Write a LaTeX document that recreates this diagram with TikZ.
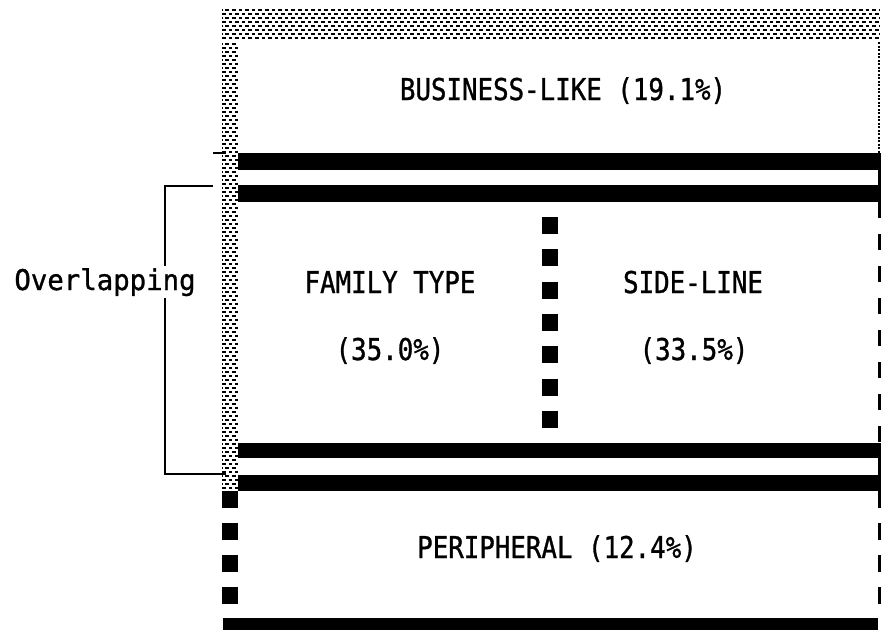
\documentclass[tikz,border=0pt]{standalone}
\usepackage{fontspec}
\newfontfamily\typefont{DejaVu Sans Mono}[FakeStretch=0.86,FakeBold=1]
\newfontfamily\sidefont{DejaVu Sans Mono}[FakeStretch=0.96,FakeBold=1]

\begin{document}
\begin{tikzpicture}[x=1pt,y=-1pt,
    lbl/.style={font=\typefont\fontsize{30}{32}\selectfont,inner sep=0pt,anchor=base},
    bar/.style={fill=black},
    stipple/.style={line width=1.1pt,dash pattern=on 3.6pt off 3pt},
    blocks/.style={line width=16pt,dash pattern=on 16.5pt off 15.5pt},
    edge/.style={line width=3pt}]
\useasboundingbox (0,0) rectangle (882,630);

% stippled band on top and left column
\foreach \y [count=\k] in {10,14,...,41}{
    \pgfmathsetmacro{\ph}{mod(\k,2)*3.3}
    \draw[stipple,dash phase=\ph pt] (222,\y) -- (880,\y);
}
\foreach \y [count=\k] in {44,48,...,490}{
    \pgfmathsetmacro{\ph}{mod(\k,2)*3.3}
    \draw[stipple,dash phase=\ph pt] (222,\y) -- (238,\y);
}
\draw[line width=1.5pt,dash pattern=on 2pt off 1.5pt] (879,42) -- (879,153);

% black bars
\fill[bar] (238,153) rectangle (878,170);
\fill[bar] (238,185) rectangle (878,202);
\fill[bar] (238,443) rectangle (878,458);
\fill[bar] (238,475) rectangle (878,491);
\fill[bar] (223,618) rectangle (878,630);

% dashed walls
\draw[blocks,dash pattern=on 17pt off 15.3pt] (550,217) -- (550,428);
\draw[blocks] (230,491) -- (230,605);
\draw[edge] (879,153) -- (879,202) (879,443) -- (879,491);
\draw[edge,dash pattern=on 16pt off 16pt] (879,202) -- (879,443);
\draw[edge,dash pattern=on 16.5pt off 15.5pt] (879,491) -- (879,605);

% bracket
\coordinate (brtick) at (213,153);
\coordinate (brtop) at (213,186);
\coordinate (brbot) at (226,474);
\draw[line width=1.2pt] (brtick) -- ++(13,0);
\draw[line width=1.2pt] (brtop) -- (165,186) -- (165,474) -- (brbot);

\node[lbl,font=\sidefont\fontsize{28.5}{30}\selectfont,fill=white,inner sep=2pt] (overlap) at (105,290) {Overlapping};

\node[lbl] (business) at (563,100) {BUSINESS-LIKE (19.1\%)};
\node[lbl] (family) at (390,293) {FAMILY TYPE};
\node[lbl] (familyp) at (390,360) {(35.0\%)};
\node[lbl] (sideline) at (693,293) {SIDE-LINE};
\node[lbl] (sidelinep) at (694,360) {(33.5\%)};
\node[lbl] (peripheral) at (557,558) {PERIPHERAL (12.4\%)};

\end{tikzpicture}
\end{document}
